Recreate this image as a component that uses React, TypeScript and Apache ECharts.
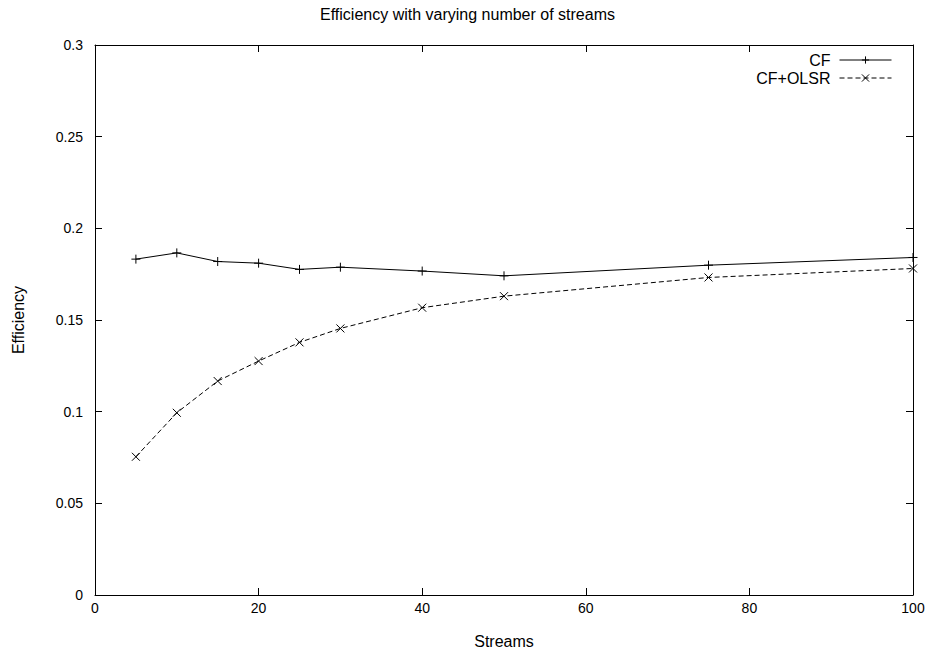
import React, { useEffect, useRef } from "react";
import * as echarts from "echarts";

const streams = [5, 10, 15, 20, 25, 30, 40, 50, 75, 100];
const cfValues = [0.1832, 0.1866, 0.1819, 0.181, 0.1776, 0.1788, 0.1767, 0.1741, 0.1799, 0.1841];
const cfOlsrValues = [0.0754, 0.0994, 0.1167, 0.1276, 0.1378, 0.1454, 0.1567, 0.163, 0.1732, 0.1781];
const seriesNames = ["CF", "CF+OLSR"];
const titleText = "Efficiency with varying number of streams";
const xName = "Streams";
const yName = "Efficiency";

const FONT = "'Liberation Sans', Arial, Helvetica, sans-serif";
const PLUS = "path://M5,0L5,10M0,5L10,5";
const CROSS = "path://M0,0L10,10M10,0L0,10";

export default function App() {
  const ref = useRef<HTMLDivElement>(null);
  useEffect(() => {
    if (!ref.current) return;
    const chart = echarts.init(ref.current, undefined, { renderer: "svg" });
    const toPairs = (vals: number[]) => streams.map((s, i) => [s, vals[i]]);
    const tickStyle = { color: "#000", fontFamily: FONT, fontSize: 14 };
    const bigStyle = { color: "#000", fontFamily: FONT, fontSize: 16 };
    const axisLine = { show: true, onZero: false, lineStyle: { color: "#000", width: 1 } };
    const axisTick = { show: true, inside: true, length: 7, lineStyle: { color: "#000", width: 1 } };
    const mirrorAxis = {
      axisLine,
      axisTick,
      axisLabel: { show: false },
      splitLine: { show: false },
    };
    const legendBase = {
      right: 38,
      align: "right",
      itemWidth: 52,
      itemHeight: 9,
      textStyle: { ...bigStyle, padding: [0, 4, 0, 0] },
      lineStyle: { width: 1 },
      itemStyle: { borderWidth: 1 },
      selectedMode: false,
    };
    chart.setOption({
      animation: false,
      backgroundColor: "#fff",
      textStyle: { fontFamily: FONT, color: "#000" },
      title: {
        text: titleText,
        left: "center",
        top: 1,
        textStyle: { fontFamily: FONT, fontSize: 16, fontWeight: "normal", color: "#000" },
      },
      legend: [
        { ...legendBase, data: [seriesNames[0]], top: 47 },
        { ...legendBase, data: [seriesNames[1]], top: 65 },
      ],
      grid: { left: 95, right: 22, top: 45, bottom: 61, containLabel: false },
      xAxis: [
        {
          type: "value",
          min: 0,
          max: 100,
          interval: 20,
          position: "bottom",
          name: xName,
          nameLocation: "middle",
          nameGap: 38,
          nameTextStyle: bigStyle,
          axisLine,
          axisTick,
          axisLabel: { ...tickStyle, margin: 6 },
          splitLine: { show: false },
        },
        { type: "value", min: 0, max: 100, interval: 20, position: "top", ...mirrorAxis },
      ],
      yAxis: [
        {
          type: "value",
          min: 0,
          max: 0.3,
          interval: 0.05,
          position: "left",
          name: yName,
          nameLocation: "middle",
          nameGap: 69,
          nameTextStyle: bigStyle,
          axisLine,
          axisTick,
          axisLabel: { ...tickStyle, margin: 12 },
          splitLine: { show: false },
        },
        { type: "value", min: 0, max: 0.3, interval: 0.05, position: "right", ...mirrorAxis },
      ],
      series: [
        {
          name: seriesNames[0],
          type: "line",
          data: toPairs(cfValues),
          symbol: PLUS,
          symbolSize: 9,
          showAllSymbol: true,
          lineStyle: { color: "#000", width: 1 },
          itemStyle: { color: "transparent", borderColor: "#000", borderWidth: 1 },
        },
        {
          name: seriesNames[1],
          type: "line",
          data: toPairs(cfOlsrValues),
          symbol: CROSS,
          symbolSize: 8,
          showAllSymbol: true,
          lineStyle: { color: "#000", width: 1, type: [5, 3] },
          itemStyle: { color: "transparent", borderColor: "#000", borderWidth: 1 },
        },
      ],
    });
    return () => chart.dispose();
  }, []);
  return <div ref={ref} style={{ position: "fixed", left: 0, top: 0, width: 935, height: 656 }} />;
}
